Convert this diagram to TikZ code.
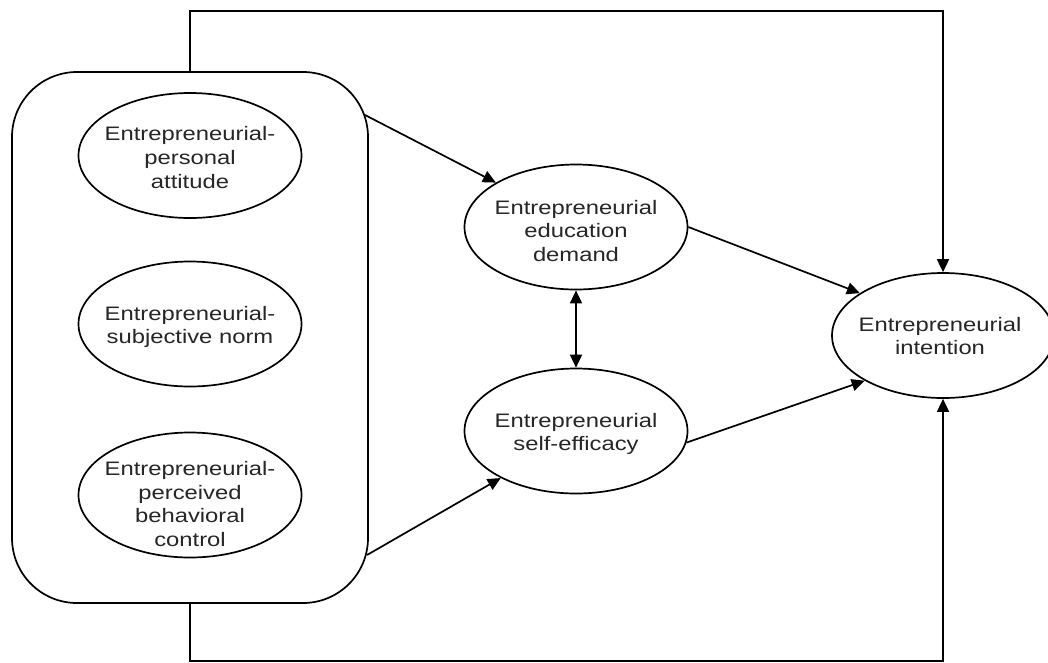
\documentclass[tikz,border=0pt]{standalone}
\usepackage{fontspec}
\setmainfont{Liberation Sans}
\newfontfamily\widesans[FakeStretch=1.22]{Liberation Sans}
\usetikzlibrary{shapes.geometric,arrows.meta}
\begin{document}
\begin{tikzpicture}[x=1pt,y=-1pt,
  ell/.style={draw, ellipse, line width=1.7pt, inner sep=0pt, minimum width=223pt, minimum height=125pt},
  txt/.style={inner sep=0pt, align=center, text=black!85, font=\widesans\fontsize{19.5}{23.8}\selectfont},
  conn/.style={line width=1.7pt},
  arr/.style={conn, -{Triangle[length=13pt,width=12pt]}},
  darr/.style={conn, {Triangle[length=13pt,width=12pt]}-{Triangle[length=13pt,width=12pt]}}]
\useasboundingbox (0,0) rectangle (1048,662);
\fill[white] (0,0) rectangle (1048,662);
% grouping box
\node[draw, line width=1.7pt, rounded corners=65pt, minimum width=356pt, minimum height=531pt, inner sep=0pt] (box) at (190,337.5) {};
% ellipses
\node[ell] (att) at (190,155.5) {};
\node[ell] (norm) at (190,324) {};
\node[ell] (pbc) at (190,495) {};
\node[ell] (edu) at (576,227) {};
\node[ell] (se) at (576,431) {};
\node[ell, minimum width=222pt] (int) at (943,335.5) {};
% texts
\node[txt] (att-t) at (190,157.5) {Entrepreneurial-\\personal\\attitude};
\node[txt] (norm-t) at (190,327) {Entrepreneurial-\\subjective norm};
\node[txt] (pbc-t) at (190,504) {Entrepreneurial-\\perceived\\behavioral\\control};
\node[txt] (edu-t) at (576,231) {Entrepreneurial\\education\\demand};
\node[txt] (se-t) at (576,434) {Entrepreneurial\\self-efficacy};
\node[txt] (int-t) at (940,336) {Entrepreneurial\\intention};
% connector points
\coordinate (b1) at (365,115);
\coordinate (b2) at (367,555);
\coordinate (tl) at (190,11);
\coordinate (tr) at (943,11);
\coordinate (bl) at (190,661);
\coordinate (br) at (943,661);
% connectors
\draw[arr] (b1) -- (edu.151);
\draw[arr] (b2) -- (se.212);
\draw[arr] (edu.east) -- (int.153);
\draw[arr] (se.-6) -- (int.210);
\draw[darr] (edu.south) -- (se.north);
\draw[arr] (box.north) -- (tl) -- (tr) -- (int.north);
\draw[arr] (box.south) -- (bl) -- (br) -- (int.south);
\end{tikzpicture}
\end{document}
